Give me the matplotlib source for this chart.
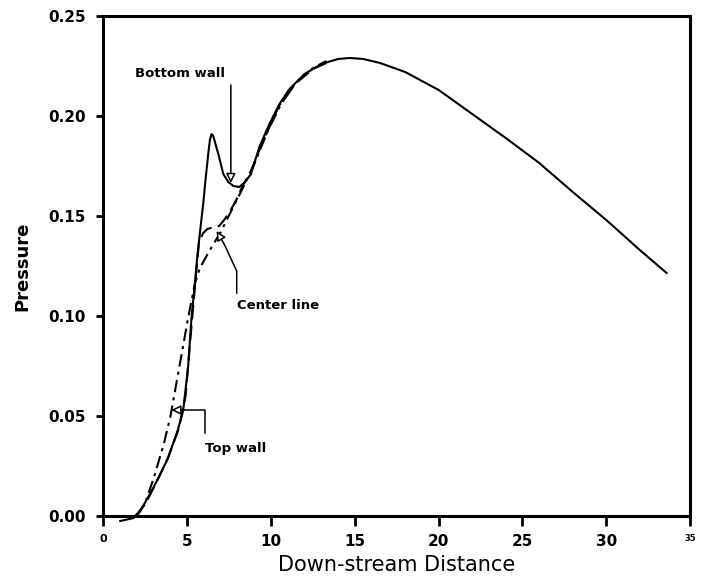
"""
Pressure along the channel: bottom wall, center line and top wall.
The three traces separate near x = 5-9 and merge into one curve downstream.
"""

import matplotlib
matplotlib.use("Agg")
import matplotlib.pyplot as plt

# ── data ──────────────────────────────────────────────────────────────────
bottom_x = [1.0, 1.8, 2.2, 3.0, 3.8, 4.4, 4.75, 5.05, 5.25, 5.45, 5.6, 5.8,
            5.95, 6.1, 6.25, 6.35, 6.45, 6.55, 6.65, 6.85, 7.15, 7.45, 7.75,
            8.1, 8.45, 8.8]
bottom_y = [-0.0025, -0.001, 0.0025, 0.0145, 0.028, 0.042, 0.0525, 0.0745,
            0.099, 0.116, 0.130, 0.145, 0.156, 0.169, 0.181, 0.188, 0.191,
            0.190, 0.187, 0.181, 0.171, 0.167, 0.165, 0.1645, 0.167, 0.171]

center_x = [1.9, 2.5, 3.2, 3.9, 4.5, 4.9, 5.2, 5.45, 5.7, 5.95, 6.2, 6.4,
            6.6, 6.9, 7.2, 7.6, 7.95, 8.3, 8.8, 9.5, 10.5, 11.5, 12.5, 13.3]
center_y = [0.0, 0.006, 0.0175, 0.030, 0.044, 0.060, 0.090, 0.114, 0.137,
            0.1415, 0.1435, 0.144, 0.144, 0.145, 0.148, 0.153, 0.1585, 0.165,
            0.1725, 0.187, 0.2055, 0.2165, 0.2235, 0.2265]

top_x = [2.0, 2.5, 3.0, 3.6, 4.0, 4.6, 5.05, 5.45, 5.75, 6.35, 7.0, 7.35,
         7.9, 8.4, 9.0, 9.8, 10.6, 11.5, 12.5, 13.3]
top_y = [0.0, 0.007, 0.019, 0.036, 0.050, 0.078, 0.099, 0.116, 0.124, 0.133,
         0.142, 0.148, 0.157, 0.1655, 0.176, 0.1925, 0.206, 0.217, 0.224,
         0.2275]

main_x = [8.8, 9.3, 9.9, 10.5, 11.1, 12.0, 13.0, 14.0, 14.7, 15.5, 16.5,
          18.0, 20.0, 22.0, 24.0, 26.0, 28.0, 30.0, 32.0, 33.6]
main_y = [0.171, 0.1845, 0.196, 0.206, 0.2135, 0.221, 0.226, 0.2285, 0.229,
          0.2285, 0.2265, 0.222, 0.213, 0.201, 0.189, 0.1765, 0.162, 0.148,
          0.133, 0.1215]

x_ticks = [0, 5, 10, 15, 20, 25, 30, 35]
x_tick_labels = ["0", "5", "10", "15", "20", "25", "30", "35"]
y_ticks = [0.00, 0.05, 0.10, 0.15, 0.20, 0.25]
y_tick_labels = ["0.00", "0.05", "0.10", "0.15", "0.20", "0.25"]


def main():
    fig = plt.figure(figsize=(7.02, 5.79), dpi=100)
    ax = fig.add_axes([0.1474, 0.1088, 0.983 - 0.1474, 0.9724 - 0.1088])

    lw = 1.5
    ax.plot(bottom_x, bottom_y, color="black", lw=lw, clip_on=False)
    ax.plot(center_x, center_y, color="black", lw=lw, ls=(0, (7, 3)))
    ax.plot(top_x, top_y, color="black", lw=lw, ls=(0, (6, 2.5, 1.5, 2.5)))
    ax.plot(main_x, main_y, color="black", lw=lw)

    ax.set_xlim(0, 35)
    ax.set_ylim(0, 0.25)

    ax.set_xticks(x_ticks)
    ax.set_xticklabels(x_tick_labels, fontsize=11, fontweight="bold")
    ax.set_yticks(y_ticks)
    ax.set_yticklabels(y_tick_labels, fontsize=11, fontweight="bold")
    labels = ax.get_xticklabels()
    labels[0].set_fontsize(8)
    labels[-1].set_fontsize(6)

    ax.tick_params(axis="x", direction="out", length=7, width=2, pad=6)
    ax.tick_params(axis="y", direction="out", length=5, width=2, pad=8)
    for sp in ax.spines.values():
        sp.set_linewidth(2.2)

    ax.set_xlabel("Down-stream Distance", fontsize=15, labelpad=4)
    ax.set_ylabel("Pressure", fontsize=13, fontweight="bold", labelpad=12)

    # ── annotations ───────────────────────────────────────────────────────
    head = dict(arrowstyle="-|>", fc="white", ec="black", lw=1.1,
                mutation_scale=14, shrinkA=0, shrinkB=0)

    ax.text(4.55, 0.221, "Bottom wall", fontsize=9.5, fontweight="bold",
            ha="center", va="center")
    ax.annotate("", xy=(7.6, 0.1665), xytext=(7.6, 0.2155), arrowprops=head)

    ax.text(7.95, 0.105, "Center line", fontsize=9.5, fontweight="bold",
            ha="left", va="center")
    ax.plot([7.95, 7.95, 7.2], [0.1115, 0.1225, 0.1360], color="black", lw=1.1)
    ax.annotate("", xy=(6.75, 0.1425), xytext=(7.2, 0.1360), arrowprops=head)

    ax.text(6.05, 0.034, "Top wall", fontsize=9.5, fontweight="bold",
            ha="left", va="center")
    ax.plot([6.05, 6.05, 4.8], [0.0415, 0.053, 0.053], color="black", lw=1.1)
    ax.annotate("", xy=(4.05, 0.053), xytext=(4.8, 0.053), arrowprops=head)

    fig.savefig("out.png", dpi=100)
    plt.close(fig)


if __name__ == "__main__":
    main()
